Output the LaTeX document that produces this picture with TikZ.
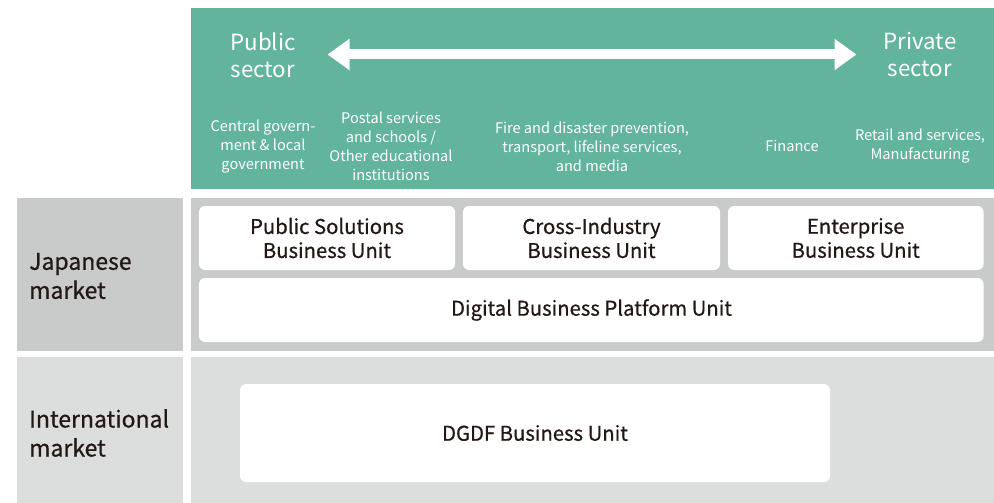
\documentclass[tikz,border=0pt]{standalone}
\usepackage{fontspec}
\setmainfont{Noto Sans CJK JP}
\newfontfamily\medfont{Noto Sans CJK JP}[FakeBold=0.6]
\usetikzlibrary{arrows.meta}
\definecolor{teal}{HTML}{62B49D}
\definecolor{gdark}{HTML}{C9CACA}
\definecolor{glight}{HTML}{DCDDDD}
\definecolor{ink}{HTML}{231815}
\tikzset{
  unitlbl/.style={text=ink, align=center, font=\medfont\fontsize{20.3}{24}\selectfont},
  mktlbl/.style={text=ink, align=left, anchor=west, inner sep=0pt, font=\medfont\fontsize{23}{29}\selectfont},
  sectorlbl/.style={text=white, align=center, font=\fontsize{22.3}{27}\selectfont},
  catlbl/.style={text=white, align=center, font=\fontsize{14.6}{19}\selectfont},
  bigarrow/.style={draw=white, line width=10pt, {Triangle[length=22pt,width=30pt]}-{Triangle[length=22pt,width=30pt]}}
}
\begin{document}
\begin{tikzpicture}[x=1pt,y=-1pt]
\useasboundingbox (0,0) rectangle (994,503);
% green band
\fill[teal] (191,8) rectangle (994,189.3);
% market panels
\fill[gdark] (17,197.5) rectangle (183,350.5);
\fill[gdark] (191,197.5) rectangle (994,350.5);
\fill[glight] (17,356.7) rectangle (183,503);
\fill[glight] (191,356.7) rectangle (994,503);
% sector labels
\node[sectorlbl] (pub) at (263,55) {Public\\sector};
\node[sectorlbl] (priv) at (920,55) {Private\\sector};
\coordinate (aL) at (327.5,54.5);
\coordinate (aR) at (856.5,54.5);
\draw[bigarrow] (aL) -- (aR);
% categories
\node[catlbl] (c1) at (263,147) {Central govern-\\ment \& local\\government};
\node[catlbl] (c2) at (391,146) {Postal services\\and schools /\\Other educational\\institutions};
\node[catlbl] (c3) at (592,147) {Fire and disaster prevention,\\transport, lifeline services,\\and media};
\node[catlbl] (c4) at (792,146) {Finance};
\node[catlbl] (c5) at (920,146) {Retail and services,\\Manufacturing};
% market labels
\node[mktlbl] (jp) at (29,276) {Japanese\\market};
\node[mktlbl] (intl) at (29,433) {International\\market};
% business units
\fill[white, rounded corners=6pt] (199,206) rectangle (455,270);
\node[unitlbl] (psbu) at (327,238) {Public Solutions\\Business Unit};
\fill[white, rounded corners=6pt] (463,206) rectangle (720,270);
\node[unitlbl] (cibu) at (591.5,238) {Cross-Industry\\Business Unit};
\fill[white, rounded corners=6pt] (728,206) rectangle (983.5,270);
\node[unitlbl] (ebu) at (855.7,238) {Enterprise\\Business Unit};
\fill[white, rounded corners=6pt] (199,278) rectangle (983.5,342);
\node[unitlbl] (dbpu) at (591.5,310) {Digital Business Platform Unit};
\fill[white, rounded corners=6pt] (240,384) rectangle (830,482);
\node[unitlbl] (dgdf) at (535,433) {DGDF Business Unit};
\end{tikzpicture}
\end{document}
